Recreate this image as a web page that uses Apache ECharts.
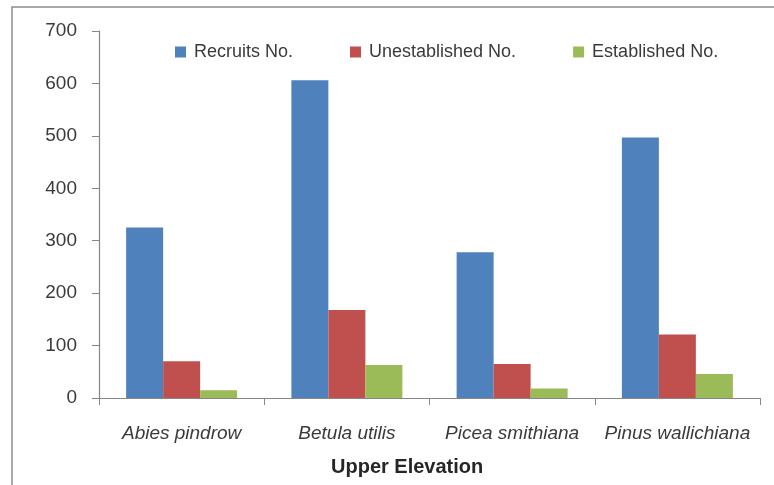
<!DOCTYPE html>
<html>
<head>
<meta charset="utf-8">
<script src="https://cdn.jsdelivr.net/npm/echarts@6/dist/echarts.min.js"></script>
<style>
  html, body { margin: 0; padding: 0; background: #fff; }
  #chart { width: 774px; height: 485px; }
</style>
</head>
<body>
<div id="chart"></div>
<script>
// Tree species at the upper elevation
const species = ['Abies pindrow', 'Betula utilis', 'Picea smithiana', 'Pinus wallichiana'];
// Counts per species
const recruits = [325, 606, 278, 497];
const unestablished = [70, 168, 65, 121];
const established = [15, 63, 18, 46];
// Value axis range
const yMin = 0, yMax = 700, yStep = 100;

const font = '"Liberation Sans", Arial, sans-serif';
const axisGray = '#868686';
const textGray = '#3a3a3a';

const chart = echarts.init(document.getElementById('chart'), null, { renderer: 'canvas' });

function barSeries(name, data, color) {
  return {
    name: name,
    type: 'bar',
    data: data,
    barWidth: 37,
    barGap: '0%',
    itemStyle: { color: color },
    emphasis: { disabled: true }
  };
}

chart.setOption({
  animation: false,
  backgroundColor: '#ffffff',
  graphic: [{
    type: 'rect',
    shape: { x: 12, y: 7, width: 780, height: 500 },
    style: { fill: 'none', stroke: '#8c8c8c', lineWidth: 1.5 },
    silent: true,
    z: -1
  }],
  title: {
    text: 'Upper Elevation',
    left: 326,
    top: 452,
    textStyle: { fontFamily: font, fontSize: 20, fontWeight: 'bold', color: '#262626' }
  },
  legend: {
    left: 170,
    top: 38,
    itemWidth: 11,
    itemHeight: 11,
    itemGap: 57,
    icon: 'rect',
    textStyle: { fontFamily: font, fontSize: 18, color: textGray, padding: [0, 0, 0, 3] },
    data: ['Recruits No.', 'Unestablished No.', 'Established No.']
  },
  grid: { left: 99, right: 14, top: 31, bottom: 87, containLabel: false },
  xAxis: {
    type: 'category',
    data: species,
    axisLine: { lineStyle: { color: axisGray, width: 1.2 } },
    axisTick: { show: true, length: 7, lineStyle: { color: axisGray } },
    axisLabel: {
      fontFamily: font, fontSize: 19, fontStyle: 'italic', color: textGray, margin: 26, interval: 0
    },
    splitLine: { show: false }
  },
  yAxis: {
    type: 'value',
    min: yMin,
    max: yMax,
    interval: yStep,
    axisLine: { show: true, lineStyle: { color: axisGray, width: 1.2 } },
    axisTick: { show: true, length: 7, lineStyle: { color: axisGray } },
    axisLabel: { fontFamily: font, fontSize: 19, color: textGray, margin: 22 },
    splitLine: { show: false }
  },
  series: [
    barSeries('Recruits No.', recruits, '#4F81BD'),
    barSeries('Unestablished No.', unestablished, '#C0504D'),
    barSeries('Established No.', established, '#9BBB59')
  ]
});
</script>
</body>
</html>
